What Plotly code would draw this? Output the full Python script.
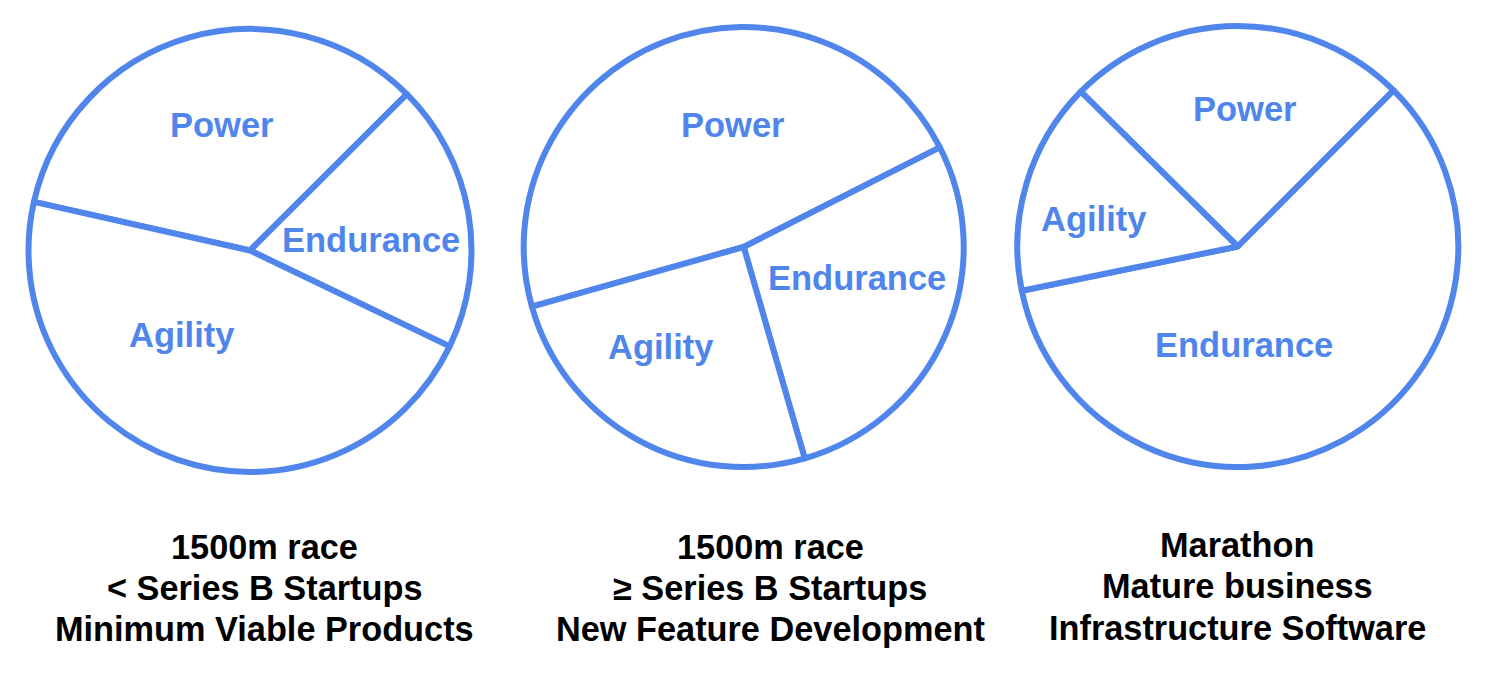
import plotly.graph_objects as go

W, H = 1494, 674
BLUE = "#5086ec"

# Slice data (clockwise order, starting from the given rotation)
labels_1 = ["Power", "Endurance", "Agility"]
values_1 = [34.0, 19.6, 46.4]
labels_2 = ["Power", "Endurance", "Agility"]
values_2 = [46.9, 28.0, 25.1]
labels_3 = ["Power", "Endurance", "Agility"]
values_3 = [25.1, 59.3, 15.6]

captions_1 = ["1500m race", "< Series B Startups", "Minimum Viable Products"]
captions_2 = ["1500m race", "≥ Series B Startups", "New Feature Development"]
captions_3 = ["Marathon", "Mature business", "Infrastructure Software"]

# layout (pixels): pie centre x, centre y, radius, rotation
pies = [
    dict(labels=labels_1, values=values_1, cx=250.0, cy=250.5, r=221.5, rot=-77.3,
         lab_pos={"Power": (222, 125), "Endurance": (371, 240), "Agility": (181, 335)},
         captions=captions_1, cap_x=264, cap_y=[547, 588, 629]),
    dict(labels=labels_2, values=values_2, cx=743.7, cy=247.0, r=220.0, rot=-105.75,
         lab_pos={"Power": (733, 125), "Endurance": (857, 278), "Agility": (660, 347)},
         captions=captions_2, cap_x=770, cap_y=[547, 588, 629]),
    dict(labels=labels_3, values=values_3, cx=1237.8, cy=246.5, r=220.5, rot=-45.4,
         lab_pos={"Power": (1245, 109), "Endurance": (1244, 345), "Agility": (1093, 219)},
         captions=captions_3, cap_x=1237, cap_y=[545, 586, 628]),
]

fig = go.Figure()
annotations = []
for p in pies:
    x0 = (p["cx"] - p["r"]) / W
    x1 = (p["cx"] + p["r"]) / W
    y0 = 1 - (p["cy"] + p["r"]) / H
    y1 = 1 - (p["cy"] - p["r"]) / H
    fig.add_trace(go.Pie(
        labels=p["labels"], values=p["values"], sort=False,
        direction="clockwise", rotation=p["rot"],
        domain=dict(x=[x0, x1], y=[y0, y1]),
        marker=dict(colors=["white"] * len(p["labels"]),
                    line=dict(color=BLUE, width=6)),
        textinfo="none", hoverinfo="label+percent", showlegend=False,
    ))
    for lab in p["labels"]:
        px, py = p["lab_pos"][lab]
        annotations.append(dict(
            x=px / W, y=1 - py / H, xref="paper", yref="paper",
            text=lab, showarrow=False, xanchor="center", yanchor="middle",
            font=dict(family="Liberation Sans, Arial, sans-serif", size=34.5,
                      color=BLUE, weight="bold"),
        ))
    for line, cy in zip(p["captions"], p["cap_y"]):
        annotations.append(dict(
            x=p["cap_x"] / W, y=1 - cy / H, xref="paper", yref="paper",
            text=line, showarrow=False, xanchor="center", yanchor="middle",
            font=dict(family="Liberation Sans, Arial, sans-serif", size=34.3,
                      color="black", weight="bold"),
        ))

fig.update_layout(
    width=W, height=H,
    margin=dict(l=0, r=0, t=0, b=0),
    paper_bgcolor="white", plot_bgcolor="white",
    annotations=annotations,
)

fig.write_html("out.html")
